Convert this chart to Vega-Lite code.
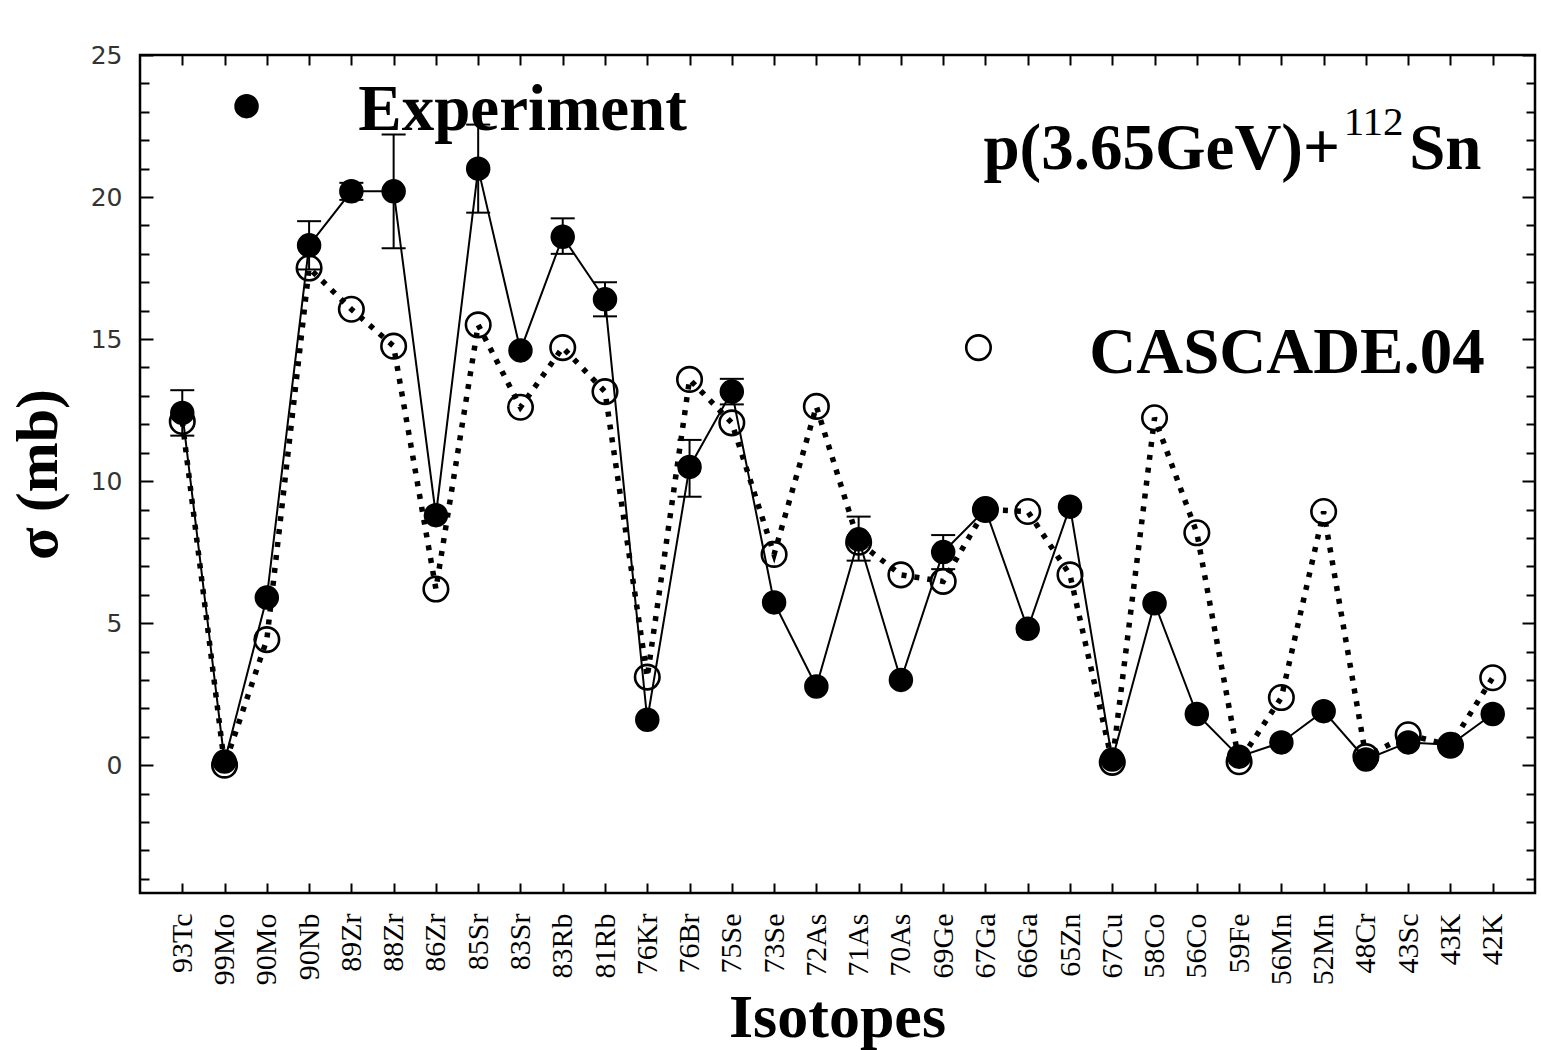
{
  "$schema": "https://vega.github.io/schema/vega-lite/v6.json",
  "width": 1395,
  "height": 838,
  "autosize": {"type": "none"},
  "padding": {"left": 140, "top": 55, "right": 6, "bottom": 157},
  "background": "white",
  "config": {
    "view": {"stroke": "black", "strokeWidth": 2.5},
    "axis": {"grid": false, "domain": false, "tickColor": "black", "tickWidth": 2, "labelOverlap": false}
  },
  "data": {
    "values": [
      {"iso": "93Tc", "exp": 12.4, "cas": 12.1, "lo": 11.6, "hi": 13.2},
      {"iso": "99Mo", "exp": 0.13, "cas": 0.0},
      {"iso": "90Mo", "exp": 5.9, "cas": 4.42},
      {"iso": "90Nb", "exp": 18.3, "cas": 17.5, "lo": 17.45, "hi": 19.15},
      {"iso": "89Zr", "exp": 20.2, "cas": 16.05, "lo": 19.9, "hi": 20.5},
      {"iso": "88Zr", "exp": 20.2, "cas": 14.75, "lo": 18.2, "hi": 22.2},
      {"iso": "86Zr", "exp": 8.8, "cas": 6.2},
      {"iso": "85Sr", "exp": 21.0, "cas": 15.5, "lo": 19.45, "hi": 22.55},
      {"iso": "83Sr", "exp": 14.6, "cas": 12.6},
      {"iso": "83Rb", "exp": 18.6, "cas": 14.7, "lo": 18.0, "hi": 19.25},
      {"iso": "81Rb", "exp": 16.4, "cas": 13.15, "lo": 15.8, "hi": 17.0},
      {"iso": "76Kr", "exp": 1.6, "cas": 3.1},
      {"iso": "76Br", "exp": 10.5, "cas": 13.58, "lo": 9.45, "hi": 11.45},
      {"iso": "75Se", "exp": 13.15, "cas": 12.05, "lo": 12.7, "hi": 13.6},
      {"iso": "73Se", "exp": 5.73, "cas": 7.42},
      {"iso": "72As", "exp": 2.77, "cas": 12.63},
      {"iso": "71As", "exp": 7.95, "cas": 7.85, "lo": 7.2, "hi": 8.75},
      {"iso": "70As", "exp": 3.0, "cas": 6.7},
      {"iso": "69Ge", "exp": 7.5, "cas": 6.47, "lo": 6.9, "hi": 8.1},
      {"iso": "67Ga", "exp": 9.0, "cas": 9.0},
      {"iso": "66Ga", "exp": 4.8, "cas": 8.93},
      {"iso": "65Zn", "exp": 9.1, "cas": 6.7},
      {"iso": "67Cu", "exp": 0.2, "cas": 0.1},
      {"iso": "58Co", "exp": 5.7, "cas": 12.23},
      {"iso": "56Co", "exp": 1.8, "cas": 8.18},
      {"iso": "59Fe", "exp": 0.3, "cas": 0.12},
      {"iso": "56Mn", "exp": 0.8, "cas": 2.38},
      {"iso": "52Mn", "exp": 1.9, "cas": 8.93},
      {"iso": "48Cr", "exp": 0.2, "cas": 0.3},
      {"iso": "43Sc", "exp": 0.8, "cas": 1.07},
      {"iso": "43K", "exp": 0.72, "cas": 0.7},
      {"iso": "42K", "exp": 1.8, "cas": 3.08}
    ]
  },
  "layer": [
    {
      "mark": {"type": "line", "color": "black", "strokeWidth": 2},
      "encoding": {
        "x": {
          "field": "iso", "type": "nominal", "sort": null,
          "scale": {"type": "point", "padding": 1,
            "domain": ["93Tc","99Mo","90Mo","90Nb","89Zr","88Zr","86Zr","85Sr","83Sr","83Rb","81Rb","76Kr","76Br","75Se","73Se","72As","71As","70As","69Ge","67Ga","66Ga","65Zn","67Cu","58Co","56Co","59Fe","56Mn","52Mn","48Cr","43Sc","43K","42K"]},
          "axis": {
            "orient": "bottom", "labelAngle": -90, "labelFont": "Liberation Serif", "labelFontSize": 30,
            "labelColor": "black", "tickSize": -10, "labelPadding": 30,
            "title": "Isotopes", "titleFont": "Liberation Serif", "titleFontSize": 62, "titleFontWeight": "bold",
            "titleColor": "black", "titleBaseline": "alphabetic", "titleY": 143, "titleX": 697, "titleAlign": "center"
          }
        },
        "y": {
          "field": "exp", "type": "quantitative",
          "scale": {"domain": [-4.5, 25], "nice": false, "zero": false},
          "axis": {
            "orient": "left",
            "values": [-4,-3,-2,-1,0,1,2,3,4,5,6,7,8,9,10,11,12,13,14,15,16,17,18,19,20,21,22,23,24,25],
            "labelExpr": "datum.value % 5 === 0 ? datum.label : ''",
            "tickSize": {"condition": {"test": "datum.value % 5 === 0", "value": -13}, "value": -9},
            "labelFont": "DejaVu Sans", "labelFontSize": 25, "labelColor": "#333", "labelPadding": 31,
            "title": "σ (mb)", "titleFont": "Liberation Serif", "titleFontSize": 60, "titleFontWeight": "bold",
            "titleColor": "black", "titleAngle": 270, "titleX": -84, "titleY": 419, "titleAlign": "center", "titleBaseline": "alphabetic"
          }
        }
      }
    },
    {
      "mark": {"type": "line", "color": "black", "strokeWidth": 5.5, "strokeDash": [5, 8], "strokeCap": "butt"},
      "encoding": {
        "x": {"field": "iso", "type": "nominal", "sort": null,
          "axis": {"orient": "top", "labels": false, "tickSize": -10, "title": null}},
        "y": {"field": "cas", "type": "quantitative",
          "axis": {"orient": "right", "labels": false, "title": null,
            "values": [-4,-3,-2,-1,0,1,2,3,4,5,6,7,8,9,10,11,12,13,14,15,16,17,18,19,20,21,22,23,24,25],
            "tickSize": {"condition": {"test": "datum.value % 5 === 0", "value": -13}, "value": -9}}}
      }
    },
    {
      "transform": [{"filter": "isValid(datum.lo)"}],
      "mark": {"type": "rule", "color": "black", "strokeWidth": 2},
      "encoding": {
        "x": {"field": "iso", "type": "nominal", "sort": null, "axis": null},
        "y": {"field": "lo", "type": "quantitative", "axis": null},
        "y2": {"field": "hi"}
      }
    },
    {
      "transform": [{"filter": "isValid(datum.lo)"}],
      "mark": {"type": "tick", "color": "black", "thickness": 2, "size": 24, "orient": "horizontal", "opacity": 1},
      "encoding": {
        "x": {"field": "iso", "type": "nominal", "sort": null, "axis": null},
        "y": {"field": "lo", "type": "quantitative", "axis": null}
      }
    },
    {
      "transform": [{"filter": "isValid(datum.hi)"}],
      "mark": {"type": "tick", "color": "black", "thickness": 2, "size": 24, "orient": "horizontal", "opacity": 1},
      "encoding": {
        "x": {"field": "iso", "type": "nominal", "sort": null, "axis": null},
        "y": {"field": "hi", "type": "quantitative", "axis": null}
      }
    },
    {
      "mark": {"type": "point", "shape": "circle", "filled": false, "color": "black", "strokeWidth": 2.6, "size": 600, "opacity": 1},
      "encoding": {
        "x": {"field": "iso", "type": "nominal", "sort": null, "axis": null},
        "y": {"field": "cas", "type": "quantitative", "axis": null}
      }
    },
    {
      "mark": {"type": "point", "shape": "circle", "filled": true, "color": "black", "size": 600, "opacity": 1},
      "encoding": {
        "x": {"field": "iso", "type": "nominal", "sort": null, "axis": null},
        "y": {"field": "exp", "type": "quantitative", "axis": null}
      }
    },
    {
      "data": {"values": [{}]},
      "mark": {"type": "point", "shape": "circle", "filled": true, "color": "black", "size": 600, "opacity": 1, "xOffset": 22},
      "encoding": {
        "x": {"datum": "99Mo", "type": "nominal", "axis": null},
        "y": {"datum": 23.2, "type": "quantitative", "axis": null}
      }
    },
    {
      "data": {"values": [{}]},
      "mark": {"type": "text", "text": "Experiment", "font": "Liberation Serif", "fontSize": 65, "fontWeight": "bold", "align": "left", "baseline": "alphabetic", "dx": 7, "color": "black"},
      "encoding": {
        "x": {"datum": "89Zr", "type": "nominal", "axis": null},
        "y": {"datum": 22.35, "type": "quantitative", "axis": null}
      }
    },
    {
      "data": {"values": [{}]},
      "mark": {"type": "point", "shape": "circle", "filled": false, "color": "black", "strokeWidth": 2.6, "size": 600, "opacity": 1, "xOffset": -7},
      "encoding": {
        "x": {"datum": "67Ga", "type": "nominal", "axis": null},
        "y": {"datum": 14.7, "type": "quantitative", "axis": null}
      }
    },
    {
      "data": {"values": [{}]},
      "mark": {"type": "text", "text": "CASCADE.04", "font": "Liberation Serif", "fontSize": 65, "fontWeight": "bold", "align": "right", "baseline": "alphabetic", "dx": -8, "color": "black"},
      "encoding": {
        "x": {"datum": "42K", "type": "nominal", "axis": null},
        "y": {"datum": 13.82, "type": "quantitative", "axis": null}
      }
    },
    {
      "data": {"values": [{}]},
      "mark": {"type": "text", "text": "p(3.65GeV)+", "font": "Liberation Serif", "fontSize": 65, "fontWeight": "bold", "align": "left", "baseline": "alphabetic", "dx": -2, "color": "black"},
      "encoding": {
        "x": {"datum": "67Ga", "type": "nominal", "axis": null},
        "y": {"datum": 20.97, "type": "quantitative", "axis": null}
      }
    },
    {
      "data": {"values": [{}]},
      "mark": {"type": "text", "text": "112", "font": "Liberation Serif", "fontSize": 41, "fontWeight": "normal", "align": "left", "baseline": "alphabetic", "dx": 20, "color": "black"},
      "encoding": {
        "x": {"datum": "52Mn", "type": "nominal", "axis": null},
        "y": {"datum": 22.2, "type": "quantitative", "axis": null}
      }
    },
    {
      "data": {"values": [{}]},
      "mark": {"type": "text", "text": "Sn", "font": "Liberation Serif", "fontSize": 65, "fontWeight": "bold", "align": "left", "baseline": "alphabetic", "dx": 1, "color": "black"},
      "encoding": {
        "x": {"datum": "43Sc", "type": "nominal", "axis": null},
        "y": {"datum": 20.97, "type": "quantitative", "axis": null}
      }
    }
  ],
  "resolve": {"axis": {"x": "independent", "y": "independent"}}
}
